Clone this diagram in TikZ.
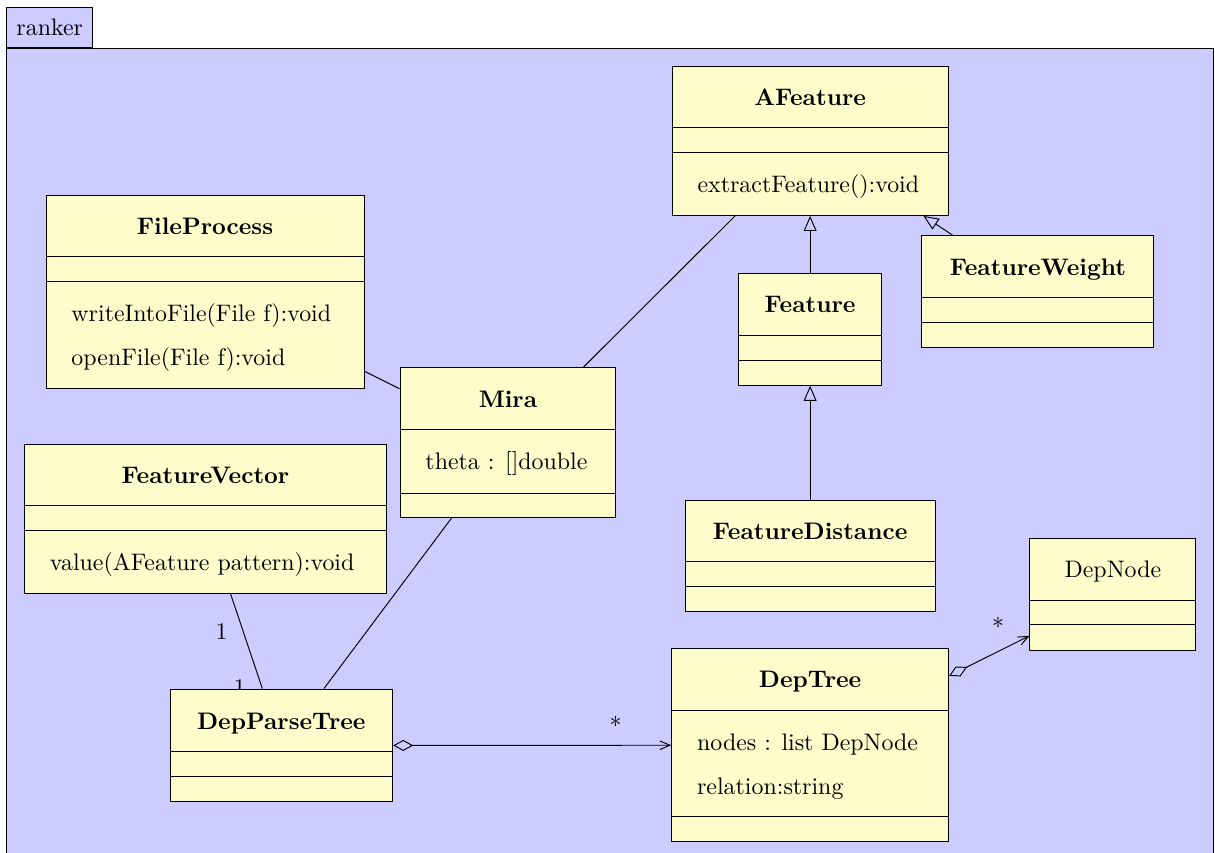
\documentclass[tikz,border=0pt]{standalone}
\usetikzlibrary{arrows.meta}
\pgfdeclarelayer{background}
\pgfsetlayers{background,main}
\tikzset{
	umlclass/.style={draw, fill=yellow!20, inner sep=0pt, anchor=north},
	classname/.style={font=\bfseries, inner sep=0pt, anchor=base},
	member/.style={inner sep=0pt, anchor=base west},
	mult/.style={inner sep=0pt},
	extends/.style={-{Triangle[open, length=6.3pt, width=5.4pt]}},
	aggreg/.style={{Diamond[open, length=8.4pt, width=4.6pt]}-{Straight Barb[length=4.2pt, width=3.6pt]}}
}

\begin{document}
\begin{tikzpicture}
	\useasboundingbox (0,0) rectangle (17.87,12.54);
	% Package
	\begin{pgfonlayer}{background}
		\draw[fill=blue!20] (0.10,0) -- (0.10,11.834) -- (17.843,11.834) -- (17.843,0);
	\end{pgfonlayer}
	\node[draw, fill=blue!20, minimum width=1.265cm, minimum height=0.597cm, inner sep=0pt] (ranker) at (0.731,12.133) {ranker};
	% AFeature
	\node[umlclass, minimum width=4.06cm, minimum height=2.195cm] (afeature) at (11.915,11.573) {};
	\node[classname] (afeature-name) at ([yshift=-0.588cm]afeature.north) {AFeature};
	\foreach \s in {0.915,1.28} \draw ([yshift=-\s cm]afeature.north west) -- ([yshift=-\s cm]afeature.north east);
	\node[member] (afeature-op1) at ([xshift=0.375cm, yshift=-1.86cm]afeature.north west) {extractFeature():void};
	% FileProcess
	\node[umlclass, minimum width=4.677cm, minimum height=2.845cm] (fileprocess) at (3.015,9.677) {};
	\node[classname] (fileprocess-name) at ([yshift=-0.588cm]fileprocess.north) {FileProcess};
	\foreach \s in {0.915,1.28} \draw ([yshift=-\s cm]fileprocess.north west) -- ([yshift=-\s cm]fileprocess.north east);
	\node[member] (fileprocess-op1) at ([xshift=0.375cm, yshift=-1.863cm]fileprocess.north west) {writeIntoFile(File f):void};
	\node[member] (fileprocess-op2) at ([xshift=0.375cm, yshift=-2.507cm]fileprocess.north west) {openFile(File f):void};
	% Feature
	\node[umlclass, minimum width=2.103cm, minimum height=1.645cm] (feature) at (11.915,8.525) {};
	\node[classname] (feature-name) at ([yshift=-0.588cm]feature.north) {Feature};
	\foreach \s in {0.915,1.28} \draw ([yshift=-\s cm]feature.north west) -- ([yshift=-\s cm]feature.north east);
	% FeatureWeight
	\node[umlclass, minimum width=3.412cm, minimum height=1.645cm] (featureweight) at (15.265,9.08) {};
	\node[classname] (featureweight-name) at ([yshift=-0.588cm]featureweight.north) {FeatureWeight};
	\foreach \s in {0.915,1.28} \draw ([yshift=-\s cm]featureweight.north west) -- ([yshift=-\s cm]featureweight.north east);
	% Mira
	\node[umlclass, minimum width=3.176cm, minimum height=2.2cm] (mira) at (7.471,7.137) {};
	\node[classname] (mira-name) at ([yshift=-0.588cm]mira.north) {Mira};
	\foreach \s in {0.92,1.85} \draw ([yshift=-\s cm]mira.north west) -- ([yshift=-\s cm]mira.north east);
	\node[member] (mira-attr1) at ([xshift=0.375cm, yshift=-1.50cm]mira.north west) {theta : []double};
	% FeatureVector
	\node[umlclass, minimum width=5.338cm, minimum height=2.195cm] (fvector) at (3.022,6.015) {};
	\node[classname] (fvector-name) at ([yshift=-0.588cm]fvector.north) {FeatureVector};
	\foreach \s in {0.915,1.28} \draw ([yshift=-\s cm]fvector.north west) -- ([yshift=-\s cm]fvector.north east);
	\node[member] (fvector-op1) at ([xshift=0.38cm, yshift=-1.86cm]fvector.north west) {value(AFeature pattern):void};
	% FeatureDistance
	\node[umlclass, minimum width=3.677cm, minimum height=1.645cm] (fdistance) at (11.915,5.191) {};
	\node[classname] (fdistance-name) at ([yshift=-0.588cm]fdistance.north) {FeatureDistance};
	\foreach \s in {0.915,1.28} \draw ([yshift=-\s cm]fdistance.north west) -- ([yshift=-\s cm]fdistance.north east);
	% DepNode
	\node[umlclass, minimum width=2.441cm, minimum height=1.645cm] (depnode) at (16.368,4.628) {};
	\node[classname, font=\normalfont] (depnode-name) at ([yshift=-0.588cm]depnode.north) {DepNode};
	\foreach \s in {0.915,1.28} \draw ([yshift=-\s cm]depnode.north west) -- ([yshift=-\s cm]depnode.north east);
	% DepParseTree
	\node[umlclass, minimum width=3.275cm, minimum height=1.66cm] (dpt) at (4.138,2.412) {};
	\node[classname] (dpt-name) at ([yshift=-0.598cm]dpt.north) {DepParseTree};
	\foreach \s in {0.925,1.29} \draw ([yshift=-\s cm]dpt.north west) -- ([yshift=-\s cm]dpt.north east);
	% DepTree
	\node[umlclass, minimum width=4.074cm, minimum height=2.845cm] (deptree) at (11.915,3.010) {};
	\node[classname] (deptree-name) at ([yshift=-0.588cm]deptree.north) {DepTree};
	\foreach \s in {0.918,2.485} \draw ([yshift=-\s cm]deptree.north west) -- ([yshift=-\s cm]deptree.north east);
	\node[member] (deptree-attr1) at ([xshift=0.375cm, yshift=-1.506cm]deptree.north west) {nodes : list DepNode};
	\node[member] (deptree-attr2) at ([xshift=0.375cm, yshift=-2.155cm]deptree.north west) {relation:string};
	% Relations
	\begin{pgfonlayer}{background}
		\draw (fileprocess) -- (mira);
		\draw (mira) -- (afeature);
		\draw[extends] (feature) -- (afeature);
		\draw[extends] (featureweight) -- (afeature);
		\draw[extends] (fdistance) -- (feature);
		\draw (mira) -- (dpt);
		\draw (fvector) -- (dpt)
			node[mult, pos=0.4, xshift=-0.32cm] (mult-fv) {1}
			node[mult, pos=0.99, xshift=-0.33cm] (mult-dpt) {1};
		\draw[aggreg] (dpt) -- (deptree) node[mult, pos=0.8, yshift=0.34cm] (mult-deptree) {$*$};
		\draw[aggreg] (deptree) -- (depnode) node[mult, pos=0.61, yshift=0.42cm] (mult-depnode) {$*$};
	\end{pgfonlayer}
\end{tikzpicture}
\end{document}
